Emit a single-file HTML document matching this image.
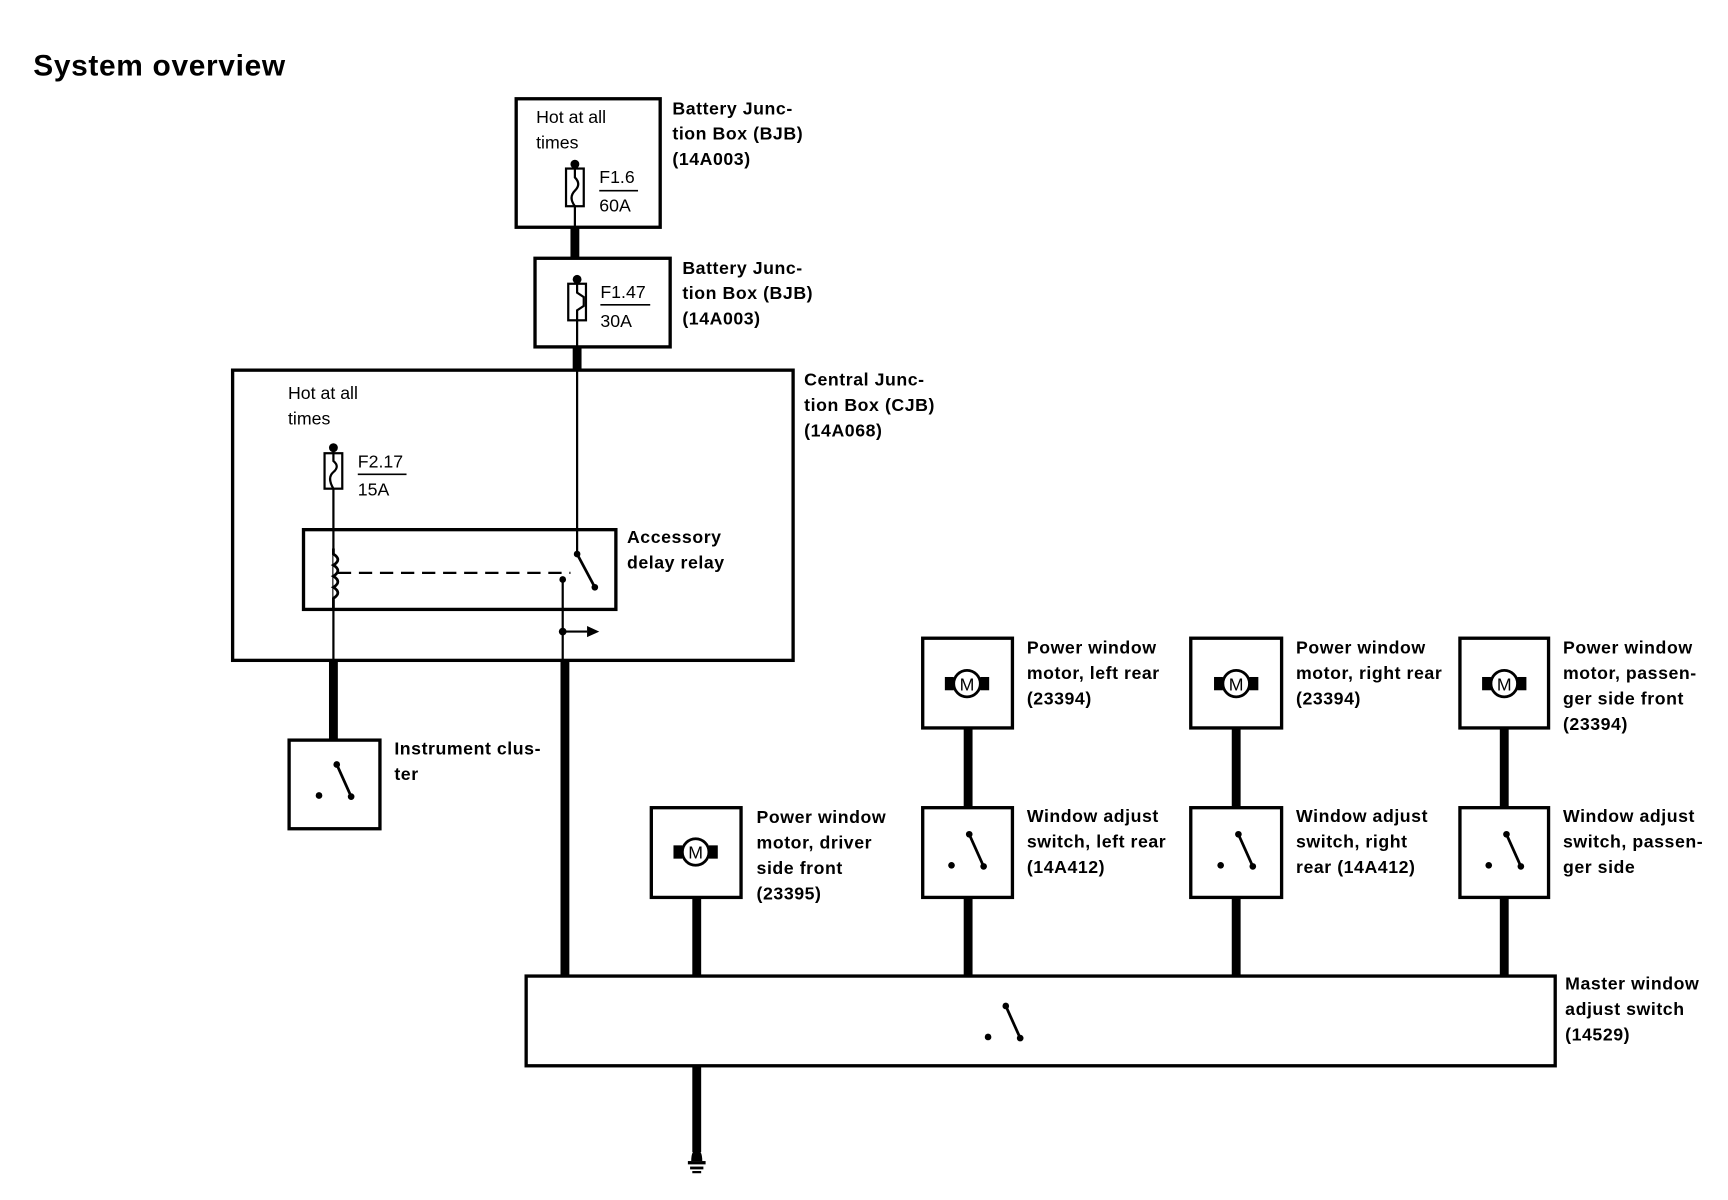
<!DOCTYPE html>
<html><head><meta charset="utf-8"><style>
html,body{margin:0;padding:0;background:#fff;}
svg{display:block;}
text{font-family:"Liberation Sans",Arial,sans-serif;fill:#000;}
.b{font-weight:bold;font-size:16px;letter-spacing:0.5px;}
.r{font-size:16px;}
</style></head><body>
<svg width="1728" height="1200" viewBox="0 0 1560 1083" xmlns="http://www.w3.org/2000/svg">
<defs>
<g id="motor">
<circle cx="0" cy="0" r="12" fill="#fff" stroke="#000" stroke-width="2.5"/>
<rect x="-20" y="-6" width="8" height="12" fill="#000"/>
<rect x="12" y="-6" width="8" height="12" fill="#000"/>
<text x="0" y="6" text-anchor="middle" style="font-size:16px">M</text>
</g>
<g id="sw">
<circle cx="0" cy="28" r="3" fill="#000"/>
<circle cx="16" cy="0" r="3" fill="#000"/>
<circle cx="29" cy="29" r="3" fill="#000"/>
<line x1="16" y1="0" x2="29" y2="29" stroke="#000" stroke-width="2.5"/>
</g>
</defs>
<rect width="1560" height="1083" fill="#fff"/>
<text x="30" y="68" style="font-weight:bold;font-size:27px;letter-spacing:0.6px">System overview</text>

<g fill="none" stroke="#000" stroke-width="3">
<rect x="466" y="89" width="130" height="116"/>
<rect x="483" y="233" width="122" height="80"/>
<rect x="210" y="334" width="506" height="262"/>
<rect x="274" y="478" width="282" height="72"/>
<rect x="261" y="668" width="82" height="80"/>
<rect x="475" y="881" width="929" height="81"/>
<rect x="588" y="729" width="81" height="81"/>
<rect x="833" y="576" width="81" height="81"/>
<rect x="833" y="729" width="81" height="81"/>
<rect x="1075" y="576" width="82" height="81"/>
<rect x="1075" y="729" width="82" height="81"/>
<rect x="1318" y="576" width="80" height="81"/>
<rect x="1318" y="729" width="80" height="81"/>
</g>

<g stroke="#000" stroke-width="8">
<line x1="519" y1="205" x2="519" y2="233"/>
<line x1="521" y1="313" x2="521" y2="334"/>
<line x1="301" y1="596" x2="301" y2="668"/>
<line x1="510" y1="596" x2="510" y2="881"/>
<line x1="629" y1="962" x2="629" y2="1040"/>
<line x1="629" y1="810" x2="629" y2="881"/>
<line x1="874" y1="657" x2="874" y2="729"/>
<line x1="874" y1="810" x2="874" y2="881"/>
<line x1="1116" y1="657" x2="1116" y2="729"/>
<line x1="1116" y1="810" x2="1116" y2="881"/>
<line x1="1358" y1="657" x2="1358" y2="729"/>
<line x1="1358" y1="810" x2="1358" y2="881"/>
</g>

<g stroke="#000" stroke-width="2" fill="none">
<line x1="519" y1="148" x2="519" y2="205"/>
<line x1="521" y1="252" x2="521" y2="313"/>
<line x1="521" y1="334" x2="521" y2="500"/>
<line x1="301" y1="404" x2="301" y2="596"/>
<line x1="508" y1="523" x2="508" y2="596"/>
<line x1="508" y1="570" x2="530" y2="570"/>
<line x1="521" y1="500" x2="537" y2="530" stroke-width="2.5"/>
<line x1="305" y1="517" x2="515" y2="517" stroke-dasharray="12,7"/>
<rect x="511" y="152" width="16" height="34" fill="#fff"/>
<path d="M519 152 L519 160 Q525 166 519 172 Q513 178 519 186"/>
<rect x="513" y="256" width="16" height="33" fill="#fff"/>
<path d="M521 256 L521 264 L527 268 L527 276 L521 280 L521 289"/>
<rect x="293" y="409" width="16" height="32" fill="#fff"/>
<path d="M301 409 L301 416 Q307 421 301 426 Q295 431 301 441"/>
<path d="M301 495 L301 500 Q309 505 301 510 Q309 515 301 520 Q309 525 301 530 Q309 535 301 540 L301 550" fill="#fff" stroke-width="2.5"/>
<line x1="541" y1="172" x2="576" y2="172" stroke-width="1.5"/>
<line x1="542" y1="275" x2="587" y2="275" stroke-width="1.5"/>
<line x1="323" y1="428" x2="367" y2="428" stroke-width="1.5"/>
</g>
<polygon points="530,565 541,570 530,575" fill="#000"/>
<g fill="#000">
<circle cx="519" cy="148" r="4"/>
<circle cx="521" cy="252" r="4"/>
<circle cx="301" cy="404" r="4"/>
<circle cx="521" cy="500" r="3"/>
<circle cx="537" cy="530" r="3"/>
<circle cx="508" cy="523" r="3"/>
<circle cx="508" cy="570" r="3.5"/>
</g>

<g fill="#000">
<path d="M624 1048 Q624 1038 629 1038 Q634 1038 634 1048 Z"/>
<rect x="621" y="1048" width="16" height="3"/>
<rect x="623" y="1053" width="12" height="2.5"/>
<rect x="625" y="1057" width="8" height="2"/>
</g>

<use href="#motor" x="628" y="769"/>
<use href="#motor" x="873" y="617"/>
<use href="#motor" x="1116" y="617"/>
<use href="#motor" x="1358" y="617"/>
<use href="#sw" x="859" y="753"/>
<use href="#sw" x="1102" y="753"/>
<use href="#sw" x="1344" y="753"/>
<use href="#sw" x="288" y="690"/>
<use href="#sw" x="892" y="908"/>

<text class="r" x="484" y="111">Hot at all</text>
<text class="r" x="484" y="134">times</text>
<text class="r" x="541" y="165">F1.6</text>
<text class="r" x="541" y="191">60A</text>
<text class="b" x="607" y="103">Battery Junc-</text>
<text class="b" x="607" y="126">tion Box (BJB)</text>
<text class="b" x="607" y="149">(14A003)</text>
<text class="r" x="542" y="269">F1.47</text>
<text class="r" x="542" y="295">30A</text>
<text class="b" x="616" y="247">Battery Junc-</text>
<text class="b" x="616" y="270">tion Box (BJB)</text>
<text class="b" x="616" y="293">(14A003)</text>
<text class="b" x="726" y="348">Central Junc-</text>
<text class="b" x="726" y="371">tion Box (CJB)</text>
<text class="b" x="726" y="394">(14A068)</text>
<text class="r" x="260" y="360">Hot at all</text>
<text class="r" x="260" y="383">times</text>
<text class="r" x="323" y="422">F2.17</text>
<text class="r" x="323" y="447">15A</text>
<text class="b" x="566" y="490">Accessory</text>
<text class="b" x="566" y="513">delay relay</text>
<text class="b" x="356" y="681">Instrument clus-</text>
<text class="b" x="356" y="704">ter</text>
<text class="b" x="683" y="743">Power window</text>
<text class="b" x="683" y="766">motor, driver</text>
<text class="b" x="683" y="789">side front</text>
<text class="b" x="683" y="812">(23395)</text>
<text class="b" x="927" y="590">Power window</text>
<text class="b" x="927" y="613">motor, left rear</text>
<text class="b" x="927" y="636">(23394)</text>
<text class="b" x="927" y="742">Window adjust</text>
<text class="b" x="927" y="765">switch, left rear</text>
<text class="b" x="927" y="788">(14A412)</text>
<text class="b" x="1170" y="590">Power window</text>
<text class="b" x="1170" y="613">motor, right rear</text>
<text class="b" x="1170" y="636">(23394)</text>
<text class="b" x="1170" y="742">Window adjust</text>
<text class="b" x="1170" y="765">switch, right</text>
<text class="b" x="1170" y="788">rear (14A412)</text>
<text class="b" x="1411" y="590">Power window</text>
<text class="b" x="1411" y="613">motor, passen-</text>
<text class="b" x="1411" y="636">ger side front</text>
<text class="b" x="1411" y="659">(23394)</text>
<text class="b" x="1411" y="742">Window adjust</text>
<text class="b" x="1411" y="765">switch, passen-</text>
<text class="b" x="1411" y="788">ger side</text>
<text class="b" x="1413" y="893">Master window</text>
<text class="b" x="1413" y="916">adjust switch</text>
<text class="b" x="1413" y="939">(14529)</text>
</svg>
</body></html>
